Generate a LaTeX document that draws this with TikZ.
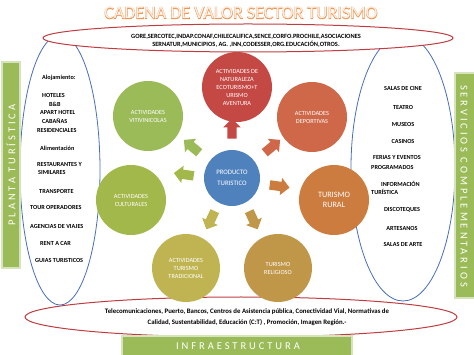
\documentclass[tikz,border=0pt]{standalone}
\usepackage{fontspec}
\setmainfont{Carlito}
\newfontfamily\titlestroke[FakeBold=4]{Carlito}
\newfontfamily\titlefill{Carlito}
\newfontfamily\spaced[LetterSpace=28]{Carlito}
\usetikzlibrary{shapes.geometric,shapes.arrows,calc}
\definecolor{blueC}{RGB}{79,129,189}
\definecolor{redC}{RGB}{196,72,68}
\definecolor{greenC}{RGB}{155,187,89}
\definecolor{cultC}{RGB}{163,184,74}
\definecolor{depC}{RGB}{206,104,72}
\definecolor{ruralC}{RGB}{204,124,62}
\definecolor{tradC}{RGB}{192,180,82}
\definecolor{religC}{RGB}{192,150,72}
\definecolor{lineR}{RGB}{192,60,64}
\definecolor{lineB}{RGB}{70,110,185}
\definecolor{titleO}{RGB}{240,150,85}
\definecolor{titleP}{RGB}{254,240,228}
\definecolor{barBorder}{RGB}{214,228,190}
\begin{document}
\begin{tikzpicture}[x=1pt,y=-1pt,
  bub/.style={circle, minimum size=#1, inner sep=0pt, text=white, align=center,
    font=\fontsize{6.3}{8}\selectfont},
  bub/.default=70pt,
  arr/.style={single arrow, minimum height=20pt, inner sep=4.5pt,
    single arrow head extend=4pt, draw=none},
  item/.style={font=\bfseries\fontsize{6.2}{8}\selectfont, inner sep=0pt},
  bar/.style={fill=greenC, draw=barBorder, line width=1.2pt},
  bartext/.style={text=white, font=\spaced\fontsize{10.5}{11}\selectfont, inner sep=0pt},
  redell/.style={ellipse, draw=lineR, line width=1pt, fill=white, inner sep=0pt},
  blueell/.style={ellipse, draw=lineB, line width=0.8pt, inner sep=0pt}
]
\useasboundingbox (0,0) rectangle (474,355);
% side ellipses
\node[blueell, minimum width=80pt, minimum height=270pt] (lell) at (60,170) {};
\node[blueell, minimum width=104pt, minimum height=266pt] (rell) at (403,168) {};
% top and bottom ellipses
\node[redell, minimum width=410pt, minimum height=28pt] (tell) at (248,38) {};
\node[redell, minimum width=432pt, minimum height=40pt] (bell) at (241,317) {};
\node[font=\bfseries\fontsize{6.4}{8.6}\selectfont, align=center, inner sep=0pt] (ttext) at (246,41)
 {GORE,SERCOTEC,INDAP.CONAF,CHILECALIFICA,SENCE,CORFO.PROCHILE,ASOCIACIONES\\
  SERNATUR,MUNICIPIOS, AG. ,INN,CODESSER,ORG.EDUCACIÓN,OTROS.};
\node[font=\bfseries\fontsize{6.8}{11}\selectfont, align=center, inner sep=0pt] (btext) at (247,317)
 {Telecomunicaciones, Puerto, Bancos, Centros de Asistencia pública, Conectividad Vial, Normativas de\\
  Calidad, Sustentabilidad, Educación (C:T) , Promoción, Imagen Región.-};
% title
\node[font=\titlestroke\fontsize{18}{18}\selectfont, text=titleO, inner sep=0pt] (title) at (241,13) {CADENA DE VALOR SECTOR TURISMO};
\node[font=\titlefill\fontsize{18}{18}\selectfont, text=titleP, inner sep=0pt] (titlefill) at (title) {CADENA DE VALOR SECTOR TURISMO};
% bars
\draw[bar] (2,62) rectangle (20,268);
\node[bartext, rotate=90] (lbar) at (11,165) {PLANTA TURÍSTICA};
\draw[bar] (455,73) rectangle (476,298);
\node[bartext, rotate=-90] (rbar) at (464,186) {SERVICIOS COMPLEMENTARIOS};
\draw[bar] (122,336) rectangle (352,357);
\node[bartext] (infra) at (238,346) {INFRAESTRUCTURA};
% circles
\node[bub, fill=blueC, minimum size=56pt, font=\fontsize{6.8}{11}\selectfont] (prod) at (232,178) {PRODUCTO\\TURISTICO};
\node[bub, fill=redC] (nat) at (237,87) {ACTIVIDADES DE\\NATURALEZA\\ECOTURISMO+T\\URISMO\\AVENTURA};
\node[bub, fill=greenC] (viti) at (148,116) {ACTIVIDADES\\VITIVINICOLAS};
\node[bub, fill=depC] (dep) at (312,117) {ACTIVIDADES\\DEPORTIVAS};
\node[bub, fill=cultC] (cult) at (131,200) {ACTIVIDADES\\CULTURALES};
\node[bub, fill=ruralC, font=\fontsize{8.2}{10}\selectfont] (rural) at (334,200) {TURISMO\\RURAL};
\node[bub, fill=tradC, minimum size=68pt] (trad) at (186,268) {ACTIVIDADES\\TURISMO\\TRADICIONAL};
\node[bub, fill=religC, minimum size=68pt] (relig) at (278,268) {TURISMO\\RELIGIOSO};
% arrows
\node[arr, fill=redC, rotate=90] (a1) at ($(prod)+(90:47pt)$) {};
\node[arr, fill=greenC, rotate=140] (a2) at ($(prod)+(142:49pt)$) {};
\node[arr, fill=depC, rotate=40] (a3) at ($(prod)+(38:49pt)$) {};
\node[arr, fill=cultC, rotate=172] (a4) at ($(prod)+(176:46pt)$) {};
\node[arr, fill=ruralC, rotate=-8] (a5) at ($(prod)+(-10:46pt)$) {};
\node[arr, fill=tradC, rotate=-115] (a6) at ($(prod)+(-117:45pt)$) {};
\node[arr, fill=religC, rotate=-65] (a7) at ($(prod)+(-63:45pt)$) {};
% left list
\node[item, anchor=west] (l1) at (42,78) {Alojamiento:};
\node[item, anchor=west] (l2) at (42,95) {HOTELES};
\node[item, anchor=west] (l3) at (49,104) {B\&B};
\node[item, anchor=west] (l4) at (40,112) {APART HOTEL};
\node[item, anchor=west] (l5) at (42,121) {CABAÑAS};
\node[item, anchor=west] (l6) at (37,130) {RESIDENCIALES};
\node[item, anchor=west] (l7) at (40,148) {Alimentación};
\node[item, anchor=west] (l8) at (37,164) {RESTAURANTES Y};
\node[item, anchor=west] (l9) at (38,172) {SIMILARES};
\node[item, anchor=west] (l10) at (39,191) {TRANSPORTE};
\node[item, anchor=west] (l11) at (30,207) {TOUR OPERADORES};
\node[item, anchor=west] (l12) at (30,226) {AGENCIAS DE VIAJES};
\node[item, anchor=west] (l13) at (40,243) {RENT A CAR};
\node[item, anchor=west] (l14) at (35,260) {GUIAS TURISTICOS};
% right list
\node[item] (r1) at (403,88) {SALAS DE CINE};
\node[item] (r2) at (403,107) {TEATRO};
\node[item] (r3) at (403,124) {MUSEOS};
\node[item] (r4) at (403,141) {CASINOS};
\node[item, anchor=west] (r5) at (373,157) {FERIAS Y EVENTOS};
\node[item, anchor=west] (r6) at (371,167) {PROGRAMADOS};
\node[item, anchor=west] (r7) at (381,184) {INFORMACIÓN};
\node[item, anchor=west] (r8) at (371,192) {TURÍSTICA};
\node[item] (r9) at (402,210) {DISCOTEQUES};
\node[item] (r10) at (402,228) {ARTESANOS};
\node[item] (r11) at (403,244) {SALAS DE ARTE};
\end{tikzpicture}
\end{document}
